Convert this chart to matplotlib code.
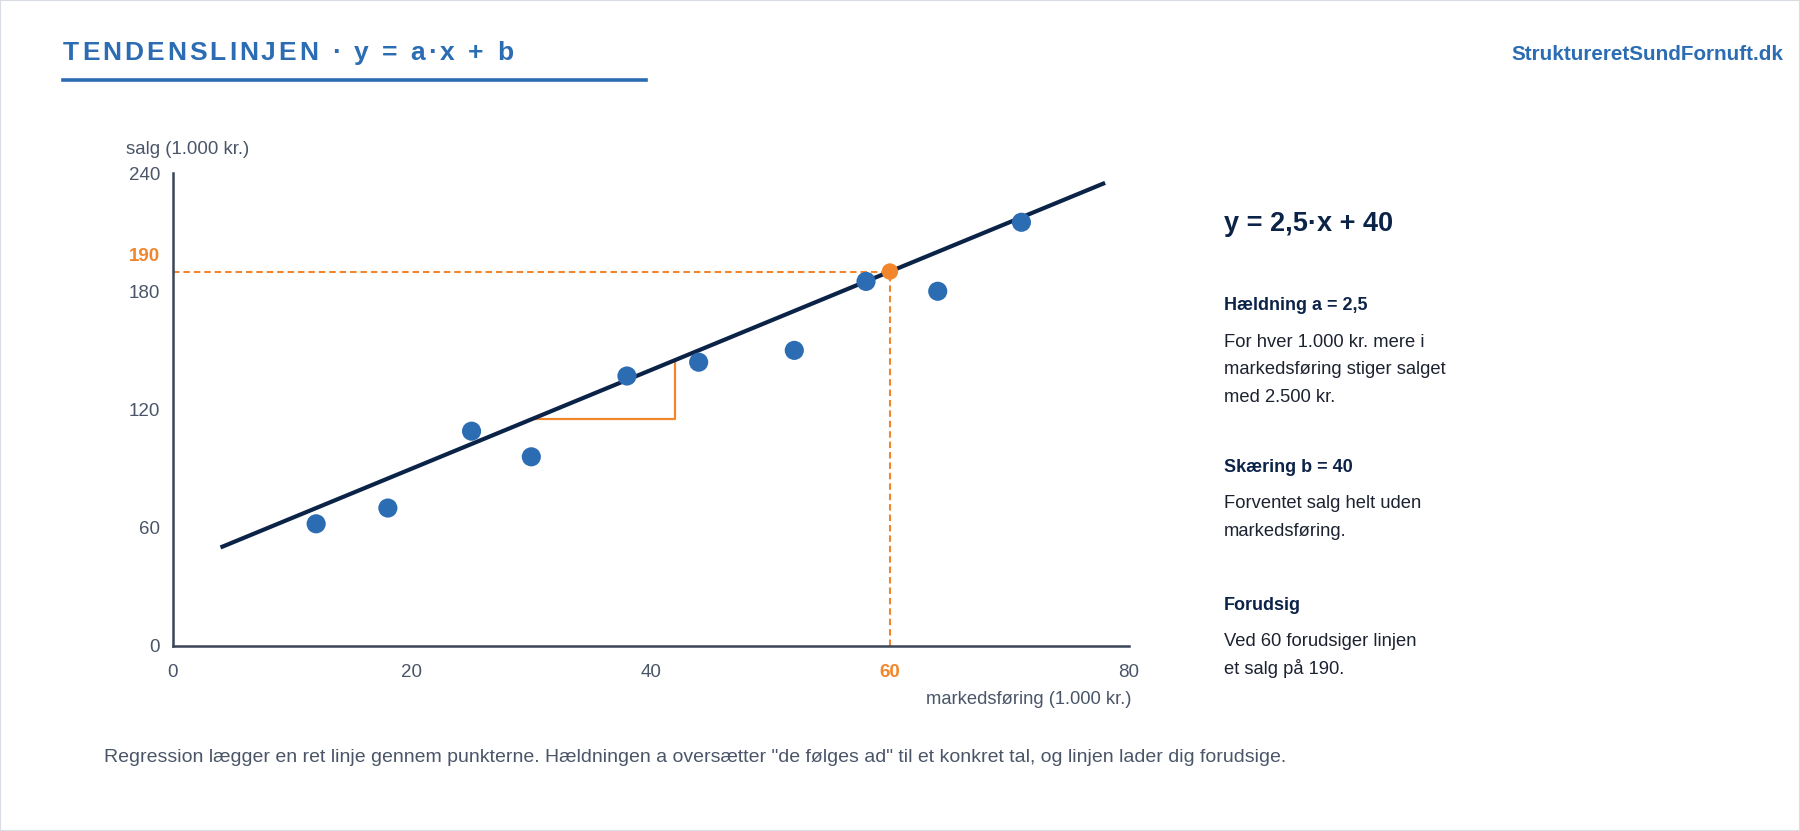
import matplotlib
matplotlib.use("Agg")
from matplotlib import pyplot as plt
from matplotlib.patches import Rectangle
import numpy as np

plt.rcParams['font.family'] = ['Liberation Sans', 'DejaVu Sans']

# --- data ---
marketing = [12, 18, 25, 30, 38, 44, 52, 58, 64, 71]
sales = [62, 70, 109, 96, 137, 144, 150, 185, 180, 215]
slope_a = 2.5
intercept_b = 40
line_x = [4, 78]
tri_x = [30, 42]
pred_x = 60
pred_y = 190
y_ticks = [0, 60, 120, 180, 240]
x_ticks = [0, 20, 40, 60, 80]

BLUE = "#2b6cb3"
NAVY = "#0c2348"
ORANGE = "#f2862c"
AXIS = "#3a4557"
GRAY = "#4a5568"
TEXT = "#1c2230"

W, H = 1800, 831
fig = plt.figure(figsize=(18, 8.31), dpi=100)
fig.patch.set_facecolor("white")
fig.patches.append(Rectangle((0, 0), 1, 1, transform=fig.transFigure, fill=False,
                             edgecolor="#d8dde4", linewidth=1.5))
renderer = fig.canvas.get_renderer()

# --- header (letter-spaced title) ---
title = "TENDENSLINJEN · y = a·x + b"
tstyle = dict(color=BLUE, fontsize=19, fontweight="bold", va="center", ha="left")
def text_w(s):
    t = fig.text(0, 0, s, **tstyle)
    w = t.get_window_extent(renderer).width
    t.remove()
    return w
natural = text_w(title)
spacing = (450 - natural) / (len(title) - 1)
for i, ch in enumerate(title):
    x0 = 63 + (text_w(title[:i]) if i else 0) + i * spacing
    fig.text(x0 / W, 1 - 53 / H, ch, **tstyle)

fig.add_artist(plt.Line2D([63 / W, 646 / W], [1 - 80 / H, 1 - 80 / H],
                          transform=fig.transFigure, color=BLUE, linewidth=2.6))
fig.text(1783 / W, 1 - 55 / H, "StruktureretSundFornuft.dk", color=BLUE,
         fontsize=14.9, fontweight="bold", va="center", ha="right")

# --- chart ---
ax = fig.add_axes([172.7 / W, 185 / H, (1129 - 172.7) / W, (646 - 173) / H])
ax.set_xlim(0, 80)
ax.set_ylim(0, 240)
for s in ("top", "right"):
    ax.spines[s].set_visible(False)
for s in ("left", "bottom"):
    ax.spines[s].set_color(AXIS)
    ax.spines[s].set_linewidth(1.8)

ax.set_xticks(x_ticks)
ax.set_yticks(y_ticks)
ax.tick_params(length=0, labelsize=13.5, labelcolor=GRAY)
ax.tick_params(axis="x", pad=13)
ax.tick_params(axis="y", pad=9)
for lbl, v in zip(ax.get_xticklabels(), x_ticks):
    if v == pred_x:
        lbl.set_color(ORANGE)
        lbl.set_fontweight("bold")

# 190 label sits a bit above its guide line
ax.annotate(str(pred_y), xy=(0, pred_y), xycoords=("axes fraction", "data"),
            xytext=(-12.7, 15.5), textcoords="offset pixels", ha="right", va="center",
            color=ORANGE, fontsize=13.5, fontweight="bold")

# prediction guides
ax.plot([0, pred_x], [pred_y, pred_y], color=ORANGE, linewidth=1.5, dashes=(3.1, 1.9))
ax.plot([pred_x, pred_x], [0, pred_y], color=ORANGE, linewidth=1.5, dashes=(3.1, 1.9))

# trend line
lx = np.array(line_x)
ax.plot(lx, slope_a * lx + intercept_b, color=NAVY, linewidth=3, solid_capstyle="butt", zorder=3)

# slope triangle
ty0 = slope_a * tri_x[0] + intercept_b
ty1 = slope_a * tri_x[1] + intercept_b
ax.plot([tri_x[0], tri_x[1], tri_x[1]], [ty0, ty0, ty1], color=ORANGE, linewidth=1.6, zorder=2)

ax.scatter(marketing, sales, s=190, color=BLUE, edgecolors="none", zorder=4)
ax.scatter([pred_x], [pred_y], s=140, color=ORANGE, edgecolors="none", zorder=5)

fig.text(126 / W, 1 - 150 / H, "salg (1.000 kr.)", color=GRAY, fontsize=13.4,
         va="center", ha="left")
fig.text(1131 / W, 1 - 700 / H, "markedsføring (1.000 kr.)", color=GRAY, fontsize=13.2,
         va="center", ha="right")

# --- side panel ---
px = 1224 / W
fig.text(px, 1 - 224 / H, "y = 2,5·x + 40", color=NAVY, fontsize=19.5,
         fontweight="bold", va="center")
blocks = [
    ("Hældning a = 2,5", 306, ["For hver 1.000 kr. mere i", "markedsføring stiger salget", "med 2.500 kr."], 342),
    ("Skæring b = 40", 468, ["Forventet salg helt uden", "markedsføring."], 504),
    ("Forudsig", 606, ["Ved 60 forudsiger linjen", "et salg på 190."], 641),
]
for head, hy, lines, by in blocks:
    fig.text(px, 1 - hy / H, head, color=NAVY, fontsize=13, fontweight="bold", va="center")
    for i, ln in enumerate(lines):
        fig.text(px, 1 - (by + 27.5 * i) / H, ln, color=TEXT, fontsize=13.2, va="center")

# --- footer ---
fig.text(104 / W, 1 - 757 / H,
         'Regression lægger en ret linje gennem punkterne. Hældningen a oversætter "de følges ad" '
         'til et konkret tal, og linjen lader dig forudsige.',
         color=GRAY, fontsize=14.0, va="center", ha="left")

fig.savefig("out.png", dpi=100, facecolor="white")
